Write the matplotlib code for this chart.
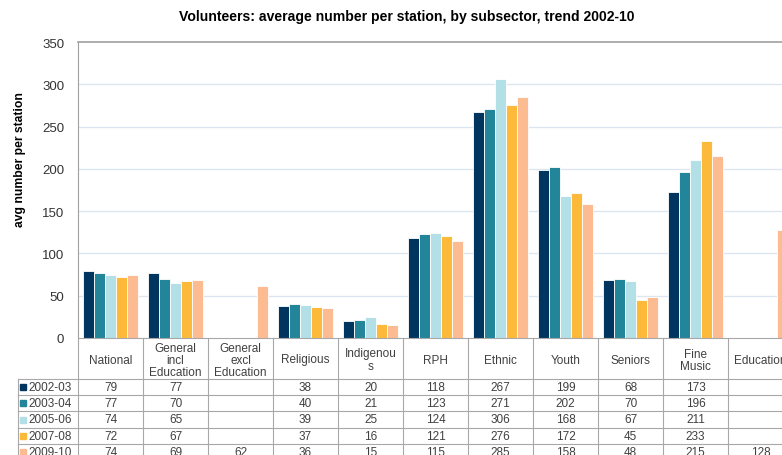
import numpy as np
import matplotlib
matplotlib.use("Agg")
import matplotlib.pyplot as plt
from matplotlib.transforms import blended_transform_factory
from matplotlib.patches import Rectangle

categories = ["National", "General\nincl\nEducation", "General\nexcl\nEducation", "Religious",
              "Indigenou\ns", "RPH", "Ethnic", "Youth", "Seniors", "Fine\nMusic", "Education"]
series_names = ["2002-03", "2003-04", "2005-06", "2007-08", "2009-10"]
nan = np.nan
v_2002 = [79, 77, nan, 38, 20, 118, 267, 199, 68, 173, nan]
v_2003 = [77, 70, nan, 40, 21, 123, 271, 202, 70, 196, nan]
v_2005 = [74, 65, nan, 39, 25, 124, 306, 168, 67, 211, nan]
v_2007 = [72, 67, nan, 37, 16, 121, 276, 172, 45, 233, nan]
v_2009 = [74, 69, 62, 36, 15, 115, 285, 158, 48, 215, 128]
series = [v_2002, v_2003, v_2005, v_2007, v_2009]
colors = ["#003560", "#23859A", "#B3DFE7", "#FDB93A", "#FDBB92"]
yticks = [0, 50, 100, 150, 200, 250, 300, 350]

W, H = 782, 456
plt.rcParams['font.family'] = ['Liberation Sans', 'DejaVu Sans']
fig = plt.figure(figsize=(W / 100, H / 100), dpi=100)

left_px, top_px, bottom_px = 78, 43, 339
col_w = 65.0
n = len(categories)
ax = fig.add_axes([left_px / W, (H - bottom_px) / H, n * col_w / W, (bottom_px - top_px) / H])

x = np.arange(n)
bw = 0.167
for i, (vals, c, name) in enumerate(zip(series, colors, series_names)):
    ax.bar(x + (i - 2) * bw, vals, width=bw, color=c, edgecolor="white", linewidth=0.6, label=name, zorder=3)

ax.set_xlim(-0.5, n - 0.5)
ax.set_ylim(0, 350)
ax.set_yticks(yticks)
ax.set_yticklabels([str(t) for t in yticks], fontsize=9.5, color="#333333")
ax.tick_params(axis="y", length=0, pad=10)
ax.set_xticks([])
for t in yticks[1:-1]:
    ax.axhline(t, color="#DCE6F0", linewidth=1.0, zorder=1)
for s in ["right", "bottom"]:
    ax.spines[s].set_visible(False)
ax.spines["left"].set_color("#A0A0A0")
ax.spines["top"].set_color("#A0A0A0")
ax.spines["top"].set_linewidth(1.2)
ax.set_ylabel("avg number per station", fontsize=8.7, fontweight="bold")
ax.yaxis.set_label_coords(-0.073, 0.605)

fig.text(407 / W, 1 - 17 / H, "Volunteers: average number per station, by subsector, trend 2002-10",
         ha="center", va="center", fontsize=10.1, fontweight="bold")

# data table below the axes
tr = blended_transform_factory(ax.transData, fig.transFigure)
def fy(py):
    return 1 - py / H

line_c = "#A8A8A8"
txt_c = "#404040"
fs = 8.5
header_bot = 380
row_h = 16.2
row_tops = [header_bot + i * row_h for i in range(6)]

fig.add_artist(plt.Line2D([left_px / W, 1.0], [fy(bottom_px), fy(bottom_px)], color=line_c, lw=0.8))
for ry in row_tops:
    fig.add_artist(plt.Line2D([18 / W, 1.0], [fy(ry), fy(ry)], color=line_c, lw=0.8))
for b in range(n + 1):
    xb = b - 0.5
    ax.add_line(plt.Line2D([xb, xb], [fy(bottom_px), 0], transform=tr, color=line_c, lw=0.8, clip_on=False))
fig.add_artist(plt.Line2D([18 / W, 18 / W], [fy(header_bot), 0], color=line_c, lw=0.8))

for i, cat in enumerate(categories):
    ax.text(i, fy((bottom_px + header_bot) / 2 + 1), cat, transform=tr, ha="center", va="center",
            fontsize=fs, color=txt_c, linespacing=1.0, clip_on=False)

for r, (vals, c, name) in enumerate(zip(series, colors, series_names)):
    yc = row_tops[r] + row_h / 2
    fig.add_artist(Rectangle((20 / W, fy(yc + 3)), 6 / W, 6 / H, color=c, transform=fig.transFigure))
    fig.text(28 / W, fy(yc), name, ha="left", va="center", fontsize=fs, color=txt_c)
    for i, v in enumerate(vals):
        if not np.isnan(v):
            ax.text(i, fy(yc), f"{int(v)}", transform=tr, ha="center", va="center",
                    fontsize=fs, color=txt_c, clip_on=False)

fig.savefig("out.png", dpi=100)
